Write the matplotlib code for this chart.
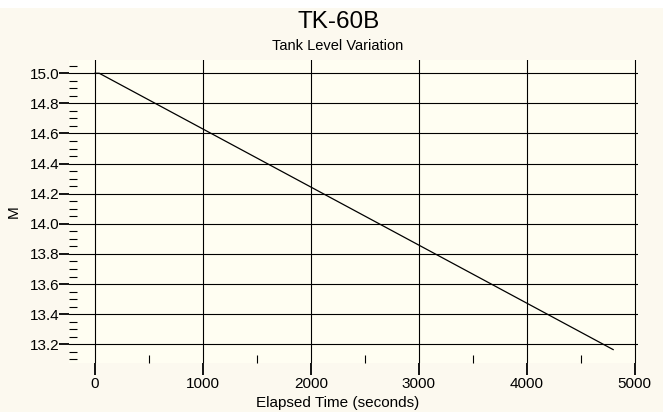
import matplotlib
matplotlib.use("Agg")
import matplotlib.pyplot as plt
from matplotlib.ticker import MultipleLocator
from matplotlib.patches import Rectangle

# tank level log
elapsed_s = [0, 40, 4800]
level_m = [15.0, 15.0, 13.165]

x_ticks = [0, 1000, 2000, 3000, 4000, 5000]
y_ticks = [13.2, 13.4, 13.6, 13.8, 14.0, 14.2, 14.4, 14.6, 14.8, 15.0]

plt.rcParams["font.family"] = ["Liberation Sans", "DejaVu Sans"]

W, H = 663, 412
fig = plt.figure(figsize=(W / 100, H / 100), dpi=100, facecolor="#fcf9ef")
fig.patches.append(Rectangle((0, 1 - 8 / H), 1, 8 / H, transform=fig.transFigure,
                             facecolor="white", edgecolor="none", zorder=0))

ax = fig.add_axes([69 / W, (H - 363) / H, (638 - 69) / W, (363 - 60) / H])
ax.set_facecolor("#fffef2")

ax.plot(elapsed_s, level_m, color="black", linewidth=0.9, zorder=3)

ax.set_xlim(-240, 5030)
ax.set_ylim(13.076, 15.088)
ax.set_xticks(x_ticks)
ax.set_yticks(y_ticks)
ax.set_yticklabels([f"{v:.1f}" for v in y_ticks])
ax.xaxis.set_minor_locator(MultipleLocator(500))
ax.yaxis.set_minor_locator(MultipleLocator(0.05))

ax.grid(True, which="major", color="black", linewidth=0.8)
for s in ax.spines.values():
    s.set_visible(False)

ax.tick_params(axis="x", which="major", direction="out", length=8.5, width=1.3,
               labelsize=11, pad=1.5)
ax.tick_params(axis="y", which="major", direction="out", length=7, width=1.3,
               labelsize=11, pad=0)
ax.tick_params(axis="x", which="minor", direction="in", length=6, width=0.8)
ax.tick_params(axis="y", which="minor", direction="in", length=5.8, width=0.8)

fig.text(339 / W, 1 - 21.5 / H, "TK-60B", ha="center", va="center", fontsize=17.5)
fig.text(338 / W, 1 - 45.5 / H, "Tank Level Variation", ha="center", va="center",
         fontsize=10.5)
fig.text(338 / W, 1 - 403 / H, "Elapsed Time (seconds)", ha="center",
         va="center", fontsize=11)
fig.text(14 / W, 1 - 212 / H, "M", ha="center", va="center", rotation=90,
         fontsize=11)

fig.savefig("out.png", dpi=100, facecolor=fig.get_facecolor())
